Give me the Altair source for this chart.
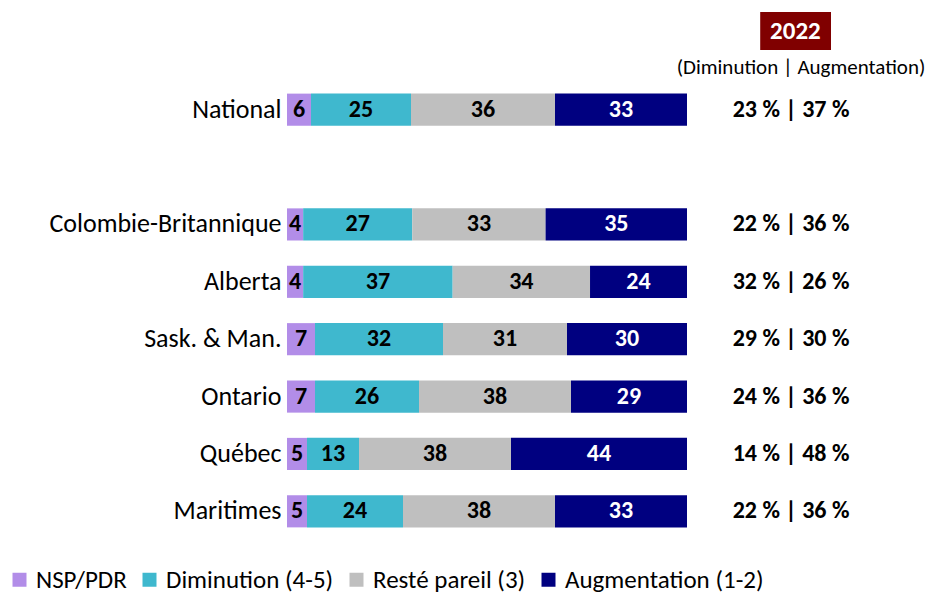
import altair as alt
import pandas as pd

regions = ["National", "Colombie-Britannique", "Alberta", "Sask. & Man.", "Ontario", "Québec", "Maritimes"]
nsp = [6, 4, 4, 7, 7, 5, 5]
dim = [25, 27, 37, 32, 26, 13, 24]
same = [36, 33, 34, 31, 38, 38, 38]
aug = [33, 35, 24, 30, 29, 44, 33]
summary = ["23 % | 37 %", "22 % | 36 %", "32 % | 26 %", "29 % | 30 %", "24 % | 36 %", "14 % | 48 %", "22 % | 36 %"]
series = ["NSP/PDR", "Diminution (4-5)", "Resté pareil (3)", "Augmentation (1-2)"]
colors = ["#B28DE8", "#3FB8CE", "#BFBFBF", "#000080"]
row_order = ["National", " "] + regions[1:]

FONT = "Carlito, Lato, sans-serif"

rows = []
for i, r in enumerate(regions):
    for k, (s, vals) in enumerate(zip(series, [nsp, dim, same, aug])):
        rows.append({"region": r, "series": s, "value": vals[i], "ord": k})
df = pd.DataFrame(rows)
sum_df = pd.DataFrame({"region": regions, "summary": summary})

yenc = alt.Y("region:N", sort=row_order,
             scale=alt.Scale(domain=row_order, paddingInner=0.44, paddingOuter=0.22),
             axis=alt.Axis(title=None, domain=False, ticks=False, labelFontSize=26,
                           labelFont=FONT, labelColor="black", labelPadding=6,
                           labelLimit=400))

base = alt.Chart(df).transform_stack(
    stack="value", groupby=["region"], as_=["x0", "x1"], offset="normalize",
    sort=[alt.SortField("ord", order="ascending")]
).transform_calculate(mid="(datum.x0 + datum.x1) / 2")

xscale = alt.Scale(domain=[0, 1], nice=False, zero=True)

bars = base.mark_bar().encode(
    x=alt.X("x0:Q", scale=xscale, axis=None),
    x2="x1:Q",
    y=yenc,
    color=alt.Color("series:N", scale=alt.Scale(domain=series, range=colors),
                    legend=alt.Legend(title=None)),
)

labels = base.mark_text(font=FONT, fontSize=24, fontWeight="bold").encode(
    x=alt.X("mid:Q", scale=xscale),
    y=alt.Y("region:N", sort=row_order),
    text="value:Q",
    color=alt.condition(alt.datum.series == "Augmentation (1-2)", alt.value("white"), alt.value("black")),
)

sums = alt.Chart(sum_df).mark_text(font=FONT, fontSize=24, fontWeight="bold", color="black").encode(
    x=alt.datum(1.26),
    y=alt.Y("region:N", sort=row_order),
    text="summary:N",
)

hdr = pd.DataFrame({"year": ["2022"], "sub": ["(Diminution | Augmentation)"]})
box = alt.Chart(hdr).mark_rect(color="#800000").encode(
    x=alt.datum(1.183), x2=alt.datum(1.36), y=alt.value(-69), y2=alt.value(-31)
)
year = alt.Chart(hdr).mark_text(font=FONT, fontSize=25, fontWeight="bold", color="white").encode(
    x=alt.datum(1.271), y=alt.value(-50), text="year:N"
)
sub = alt.Chart(hdr).mark_text(font=FONT, fontSize=21, color="black").encode(
    x=alt.datum(1.285), y=alt.value(-13), text="sub:N"
)

chart = alt.layer(bars, labels, sums, box, year, sub).properties(
    width=400, height=459,
    autosize=alt.AutoSizeParams(type="none"),
    padding={"left": 279, "top": 73, "right": 244, "bottom": 56},
).configure_view(stroke=None).configure_legend(
    orient="none", legendX=-280, legendY=486, direction="horizontal",
    symbolType="square", symbolSize=196, symbolStrokeWidth=0,
    labelFontSize=25, labelFont=FONT, labelColor="black", columnPadding=10,
    labelOffset=4, labelLimit=400,
)

chart.save("out.html", embed_options={"renderer": "svg", "actions": False})
